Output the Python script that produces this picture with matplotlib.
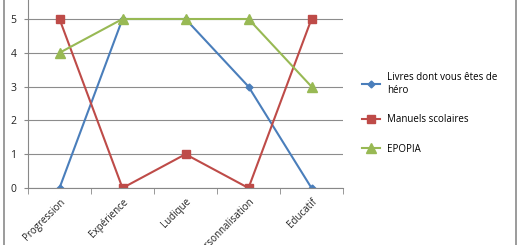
import matplotlib.pyplot as plt
from matplotlib.lines import Line2D

# Données
criteres = ["Progression", "Expérience", "Ludique", "Personnalisation", "Educatif"]
livres = [0, 5, 5, 3, 0]
manuels = [5, 0, 1, 0, 5]
epopia = [4, 5, 5, 5, 3]

plt.rcParams['font.family'] = ['Open Sans', 'DejaVu Sans']

fig = plt.figure(figsize=(5.2, 2.45), dpi=100)
ax = fig.add_axes([28 / 520, 57 / 245, 315 / 520, 188 / 245])

x = range(len(criteres))
ax.plot(x, livres, color="#4A7EBB", marker="D", markersize=3.5, lw=1.5,
        label="Livres dont vous êtes de\nhéro")
ax.plot(x, manuels, color="#BE4B48", marker="s", markersize=6, lw=1.5,
        label="Manuels scolaires")
ax.plot(x, epopia, color="#98B954", marker="^", markersize=6.5, lw=1.5,
        label="EPOPIA")

ax.set_xlim(-0.5, len(criteres) - 0.5)
ax.set_ylim(0, 188 / 33.8)
ax.set_yticks(range(6))
ax.set_xticks(list(x))
ax.set_xticklabels(criteres, rotation=45, ha="right", va="top",
                   rotation_mode="anchor", fontsize=7, color="#222222")
ax.set_xticks([i - 0.5 for i in range(len(criteres) + 1)], minor=True)
ax.tick_params(axis="x", which="major", length=0, pad=6)
ax.tick_params(axis="x", which="minor", length=4, color="#888888")
ax.tick_params(axis="y", length=3, color="#888888", labelsize=7.5,
               labelcolor="#222222", pad=5.5)

ax.grid(axis="y", color="#8C8C8C", lw=0.8)
ax.set_axisbelow(True)
for s in ["top", "right"]:
    ax.spines[s].set_visible(False)
for s in ["left", "bottom"]:
    ax.spines[s].set_color("#888888")
    ax.spines[s].set_linewidth(0.8)

ax.legend(loc="upper left", bbox_to_anchor=(362 / 520, 1 - 72 / 245),
          bbox_transform=fig.transFigure, frameon=False, fontsize=7,
          handlelength=1.85, handletextpad=0.7, labelspacing=1.9,
          borderaxespad=0, borderpad=0)

# Cadre gris du graphique (bords gauche et droit)
fig.add_artist(Line2D([4 / 520, 4 / 520], [0, 1], color="#8A8A8A", lw=1.2,
                      transform=fig.transFigure))
fig.add_artist(Line2D([516 / 520, 516 / 520], [0, 1], color="#8A8A8A", lw=1.2,
                      transform=fig.transFigure))

fig.savefig("out.png", dpi=100)
